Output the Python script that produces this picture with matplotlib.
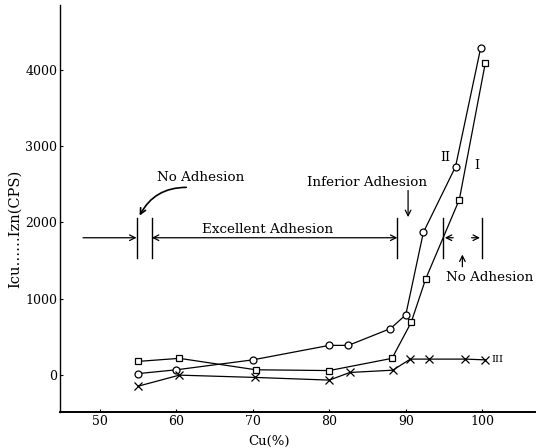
import matplotlib.pyplot as plt

plt.rcParams['font.family'] = ['DejaVu Serif']

# curve II (circles)
cu_ii = [55, 60, 70, 80, 82.5, 88, 90, 92.3, 96.5, 99.8]
cps_ii = [20, 70, 200, 390, 390, 610, 790, 1870, 2730, 4290]

# curve I (squares)
cu_i = [55, 60.4, 70.4, 80, 88.2, 90.7, 92.6, 97, 100.4]
cps_i = [180, 220, 70, 60, 220, 690, 1260, 2300, 4090]

# curve III (crosses)
cu_iii = [55, 60.4, 70.3, 80, 82.7, 88.3, 90.6, 93.1, 97.8, 100.4]
cps_iii = [-145, 0, -30, -65, 35, 65, 210, 210, 210, 200]

x_ticks = [50, 60, 70, 80, 90, 100]
y_ticks = [0, 1000, 2000, 3000, 4000]

fig = plt.figure(figsize=(5.41, 4.48), dpi=100)
ax = fig.add_axes([0.111, 0.080, 0.878, 0.909])

ln = dict(color='black', lw=0.9, mfc='white', mec='black', mew=0.9)
ax.plot(cu_ii, cps_ii, marker='o', ms=5, **ln)
ax.plot(cu_i, cps_i, marker='s', ms=5, **ln)
ax.plot(cu_iii, cps_iii, marker='x', ms=6, **ln)

ax.text(95.2, 2850, 'II', fontsize=9, ha='center', va='center')
ax.text(99.3, 2740, 'I', fontsize=9, ha='center', va='center')
ax.text(102.0, 200, 'III', fontsize=7, ha='center', va='center')

# adhesion ranges
y_bar = 1800
for xv in [54.8, 56.8, 88.9, 94.9, 99.9]:
    ax.plot([xv, xv], [1530, 2060], color='black', lw=1.0)

arw = dict(arrowstyle='->', color='black', lw=0.9, shrinkA=0, shrinkB=0)
ax.annotate('', xy=(54.8, y_bar), xytext=(47.8, y_bar), arrowprops=arw)
ax.annotate('', xy=(88.9, y_bar), xytext=(56.8, y_bar),
            arrowprops=dict(arw, arrowstyle='<->'))
ax.text(71.9, y_bar + 20, 'Excellent Adhesion', fontsize=9.7,
        ha='center', va='bottom')

ax.text(63.2, 2590, 'No Adhesion', fontsize=9.7, ha='center', va='center')
ax.annotate('', xy=(55.2, 2090), xytext=(61.3, 2460),
            arrowprops=dict(arw, lw=1.2, connectionstyle='arc3,rad=0.3'))

ax.text(85.0, 2530, 'Inferior Adhesion', fontsize=9.7, ha='center', va='center')
ax.annotate('', xy=(90.3, 2070), xytext=(90.3, 2420), arrowprops=arw)

ax.annotate('', xy=(95.1, 1800), xytext=(96.2, 1800), arrowprops=arw)
ax.annotate('', xy=(99.7, 1800), xytext=(98.6, 1800), arrowprops=arw)
ax.text(101.0, 1280, 'No Adhesion', fontsize=9.7, ha='center', va='center')
ax.annotate('', xy=(97.4, 1580), xytext=(97.4, 1420), arrowprops=arw)

ax.set_xlim(44.8, 106.9)
ax.set_ylim(-485, 4850)
ax.set_xticks(x_ticks)
ax.set_yticks(y_ticks)
ax.tick_params(direction='in', length=2, labelsize=9, pad=2)
ax.spines['top'].set_visible(False)
ax.spines['right'].set_visible(False)
ax.spines['left'].set_linewidth(1.0)
ax.spines['bottom'].set_linewidth(1.4)

ax.set_xlabel('Cu(%)', fontsize=9.5)
ax.set_ylabel('Icu……Izn(CPS)', fontsize=10.5)
ax.xaxis.set_label_coords(0.44, -0.055)
ax.yaxis.set_label_coords(-0.08, 0.45)

fig.savefig('out.png', dpi=100)
